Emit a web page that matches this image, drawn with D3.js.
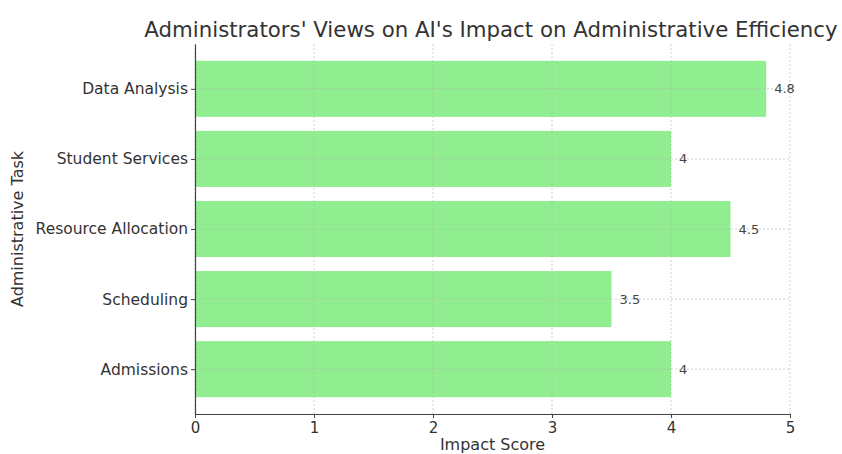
<!DOCTYPE html>
<html>
<head>
  <meta charset="utf-8">
  <title>AI Impact on Administrative Efficiency</title>
  <script src="https://d3js.org/d3.v7.min.js"></script>
  <style>
    body { margin: 0; background: #fff; }
    text { font-family: "DejaVu Sans", sans-serif; }
    .grid line { stroke: #b0b0b0; stroke-dasharray: 2,2; stroke-opacity: 0.6; }
  </style>
</head>
<body>
<div id="chart"></div>
<script>
// data
var tasks = ["Admissions", "Scheduling", "Resource Allocation", "Student Services", "Data Analysis"];
var scores = [4, 3.5, 4.5, 4, 4.8];
var xTicks = [0, 1, 2, 3, 4, 5];

var width = 842, height = 454;
var margin = {top: 44, right: 52, bottom: 40, left: 195};

var svg = d3.select("#chart").append("svg")
  .attr("width", width)
  .attr("height", height);

var x = d3.scaleLinear()
  .domain([0, 5])
  .range([margin.left, width - margin.right]);

// matplotlib-style category axis: index -0.64 .. 4.64
var y = d3.scaleLinear()
  .domain([-0.64, 4.64])
  .range([height - margin.bottom, margin.top]);

var barH = y(0) - y(0.8);

// bars
svg.append("g")
  .selectAll("rect")
  .data(tasks)
  .enter()
  .append("rect")
    .attr("x", x(0))
    .attr("y", function(d, i) { return y(i + 0.4); })
    .attr("width", function(d, i) { return x(scores[i]) - x(0); })
    .attr("height", barH)
    .attr("fill", "#90ee90");

// grid over bars
var grid = svg.append("g").attr("class", "grid");
grid.selectAll("line.v")
  .data(xTicks)
  .enter().append("line")
    .attr("class", "v")
    .attr("x1", function(d) { return x(d); })
    .attr("x2", function(d) { return x(d); })
    .attr("y1", margin.top)
    .attr("y2", height - margin.bottom);
grid.selectAll("line.h")
  .data(tasks)
  .enter().append("line")
    .attr("class", "h")
    .attr("x1", x(0))
    .attr("x2", x(5))
    .attr("y1", function(d, i) { return y(i); })
    .attr("y2", function(d, i) { return y(i); });

// value labels
svg.append("g")
  .selectAll("text")
  .data(tasks)
  .enter().append("text")
    .attr("x", function(d, i) { return x(scores[i]) + 8; })
    .attr("y", function(d, i) { return y(i); })
    .attr("dy", "0.35em")
    .attr("font-size", 13)
    .attr("fill", "#444")
    .text(function(d, i) { return scores[i]; });

// x axis
var xAxis = svg.append("g")
  .attr("transform", "translate(0," + (height - margin.bottom) + ")")
  .call(d3.axisBottom(x).tickValues(xTicks).tickFormat(d3.format("d")).tickSize(4).tickSizeOuter(0));
xAxis.select(".domain").attr("stroke", "#444").attr("stroke-width", 1.2);
xAxis.selectAll(".tick line").attr("stroke", "#444");
xAxis.selectAll("text")
  .attr("font-size", 15)
  .attr("fill", "#333")
  .attr("dy", "0.8em")
  .style("font-family", "DejaVu Sans, sans-serif");

// y axis
var yAxis = svg.append("g")
  .attr("transform", "translate(" + margin.left + ",0)")
  .call(d3.axisLeft(y).tickValues(d3.range(tasks.length))
    .tickFormat(function(i) { return tasks[i]; }).tickSize(4).tickSizeOuter(0));
yAxis.select(".domain").attr("stroke", "#444").attr("stroke-width", 1.2);
yAxis.selectAll(".tick line").attr("stroke", "#444");
yAxis.selectAll("text")
  .attr("font-size", 15.5)
  .attr("fill", "#333")
  .style("font-family", "DejaVu Sans, sans-serif");

// title
svg.append("text")
  .attr("x", 491)
  .attr("y", 37)
  .attr("text-anchor", "middle")
  .attr("font-size", 21.3)
  .attr("fill", "#333")
  .text("Administrators' Views on AI's Impact on Administrative Efficiency");

// axis labels
svg.append("text")
  .attr("x", (margin.left + width - margin.right) / 2)
  .attr("y", 450)
  .attr("text-anchor", "middle")
  .attr("font-size", 16)
  .attr("fill", "#333")
  .text("Impact Score");

svg.append("text")
  .attr("transform", "translate(23," + ((margin.top + height - margin.bottom) / 2) + ") rotate(-90)")
  .attr("text-anchor", "middle")
  .attr("font-size", 16)
  .attr("fill", "#333")
  .text("Administrative Task");
</script>
</body>
</html>
